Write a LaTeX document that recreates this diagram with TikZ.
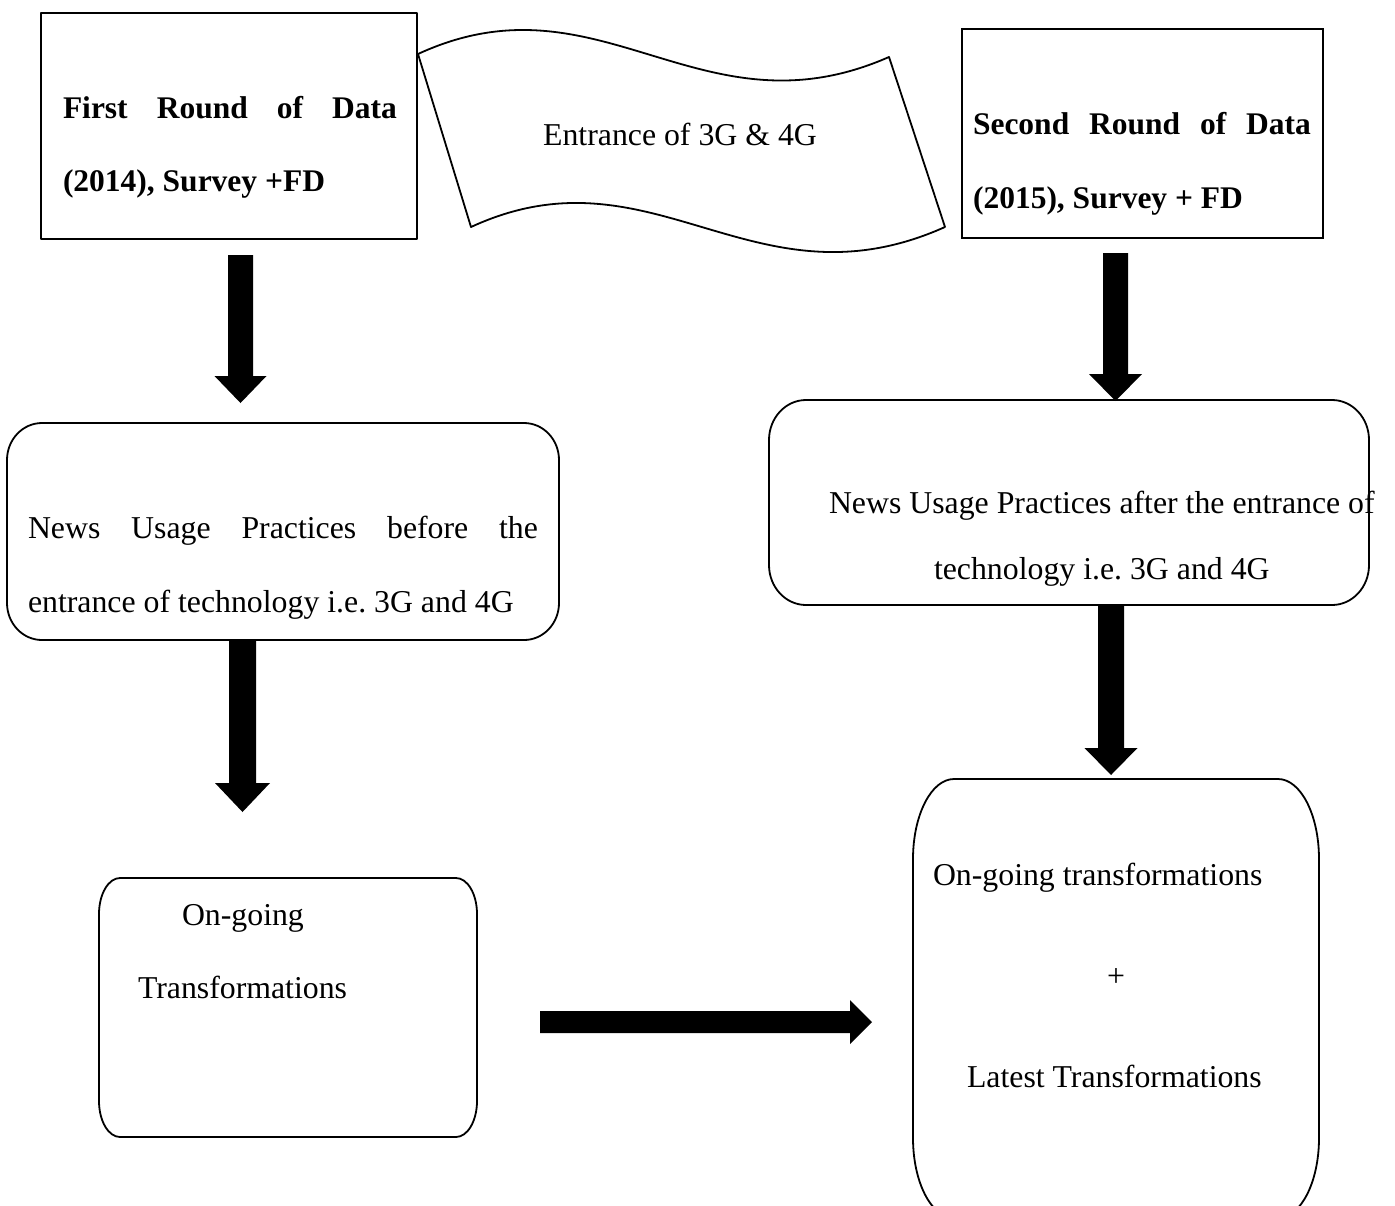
\documentclass[tikz,border=0pt]{standalone}
\usepackage{fontspec}
\setmainfont{Liberation Serif}
\usetikzlibrary{calc}
\tikzset{
  frame/.style={draw=black, line width=1.8pt, line join=round},
  thinframe/.style={draw=black, line width=1.2pt},
  boxshape/.style={rectangle, draw=none, inner sep=0pt, outer sep=0pt},
  txt/.style={anchor=base west, inner sep=0pt, outer sep=0pt, font=\fontsize{31.8}{38}\selectfont\frenchspacing},
  btxt/.style={txt, font=\fontsize{31.5}{38}\selectfont\frenchspacing\bfseries},
  fatarrow/.style={fill=black, draw=none}
}
% elliptical-corner frame around a named node: name, rx, ry
\newcommand\ellframe[3]{%
\draw[frame] ($(#1.north west)+(#2,0)$) -- ($(#1.north east)+(-#2,0)$)
 .. controls ($(#1.north east)+(-0.448*#2,0)$) and ($(#1.north east)+(0,0.448*#3)$) .. ($(#1.north east)+(0,#3)$)
 -- ($(#1.south east)+(0,-#3)$)
 .. controls ($(#1.south east)+(0,-0.448*#3)$) and ($(#1.south east)+(-0.448*#2,0)$) .. ($(#1.south east)+(-#2,0)$)
 -- ($(#1.south west)+(#2,0)$)
 .. controls ($(#1.south west)+(0.448*#2,0)$) and ($(#1.south west)+(0,-0.448*#3)$) .. ($(#1.south west)+(0,-#3)$)
 -- ($(#1.north west)+(0,#3)$)
 .. controls ($(#1.north west)+(0,0.448*#3)$) and ($(#1.north west)+(0.448*#2,0)$) .. cycle;}
% fat downward arrow: start, tip, shaft half width, head half width, head length
\newcommand\fatdown[5]{%
\fill[fatarrow] ($(#1)+(-#3,0)$) -- ($(#1)+(#3,0)$) -- ($(#2)+(#3,-#5)$) -- ($(#2)+(#4,-#5)$) -- (#2)
 -- ($(#2)+(-#4,-#5)$) -- ($(#2)+(-#3,-#5)$) -- cycle;}
% fat rightward arrow
\newcommand\fatright[5]{%
\fill[fatarrow] ($(#1)+(0,-#3)$) -- ($(#2)+(-#5,-#3)$) -- ($(#2)+(-#5,-#4)$) -- (#2)
 -- ($(#2)+(-#5,#4)$) -- ($(#2)+(-#5,#3)$) -- ($(#1)+(0,#3)$) -- cycle;}
\begin{document}
\begin{tikzpicture}[x=1pt,y=-1pt]
\useasboundingbox (0,0) rectangle (1395,1205);
\clip (0,0) rectangle (1395,1205);

% ---- boxes ----
\node[boxshape, frame, minimum width=376pt, minimum height=226pt] (box1) at (229,126) {};
\node[boxshape, thinframe, minimum width=361pt, minimum height=209pt] (box2) at (1142.5,133.5) {};
\node[boxshape, minimum width=552pt, minimum height=217pt] (box3) at (283,531.5) {};
\node[boxshape, minimum width=600pt, minimum height=205pt] (box4) at (1069,502.5) {};
\node[boxshape, minimum width=378pt, minimum height=259pt] (box5) at (288,1007.5) {};
\node[boxshape, minimum width=406pt, minimum height=439pt] (box6) at (1116,998.5) {};
\ellframe{box3}{35}{37}
\ellframe{box4}{37}{40}
\ellframe{box5}{21}{36}
\ellframe{box6}{41}{80}

% ---- wavy banner ----
\coordinate (bTL) at (418,54);
\coordinate (bTR) at (889,57);
\coordinate (bBR) at (945,227);
\coordinate (bBL) at (471,227);
\draw[frame] (bTL) .. controls (600,-30) and (700,140) .. (bTR) -- (bBR)
  .. controls (753,313) and (653,143) .. (bBL) -- cycle;
\node[txt, anchor=base] (banner) at (680,145) {Entrance of 3G \& 4G};

% ---- texts ----
\node[btxt] (t1a) at (63,118) {\makebox[334pt][s]{First Round of Data}};
\node[btxt] (t1b) at (63,191) {(2014), Survey +FD};
\node[btxt] (t2a) at (973,134) {\makebox[338pt][s]{Second Round of Data}};
\node[btxt] (t2b) at (973,208) {(2015), Survey + FD};
\node[txt] (t3a) at (28,538) {\makebox[510pt][s]{News Usage Practices before the}};
\node[txt] (t3b) at (28,612) {entrance of technology i.e. 3G and 4G};
\node[txt] (t4a) at (829,513) {News Usage Practices after the entrance of};
\node[txt] (t4b) at (934,579) {technology i.e. 3G and 4G};
\node[txt] (t5a) at (182,925) {On-going};
\node[txt] (t5b) at (138,998) {Transformations};
\node[txt] (t6a) at (933,885) {On-going transformations};
\node[txt, anchor=base] (t6b) at (1116,986) {+};
\node[txt] (t6c) at (967,1087) {Latest Transformations};

% ---- arrows ----
\coordinate (a1s) at (240.5,255);  \coordinate (a1e) at (240.5,403);
\coordinate (a2s) at (1115.5,253); \coordinate (a2e) at (1115.5,401);
\coordinate (a3s) at (242.5,641);  \coordinate (a3e) at (242.5,812);
\coordinate (a4s) at (1111,605);   \coordinate (a4e) at (1111,775);
\coordinate (a5s) at (540,1022);   \coordinate (a5e) at (872,1022);
\fatdown{a1s}{a1e}{12.5}{26}{27}
\fatdown{a2s}{a2e}{12.5}{26.5}{27}
\fatdown{a3s}{a3e}{13.5}{27.5}{29}
\fatdown{a4s}{a4e}{13}{26.5}{27}
\fatright{a5s}{a5e}{11}{22}{22}
\end{tikzpicture}
\end{document}
